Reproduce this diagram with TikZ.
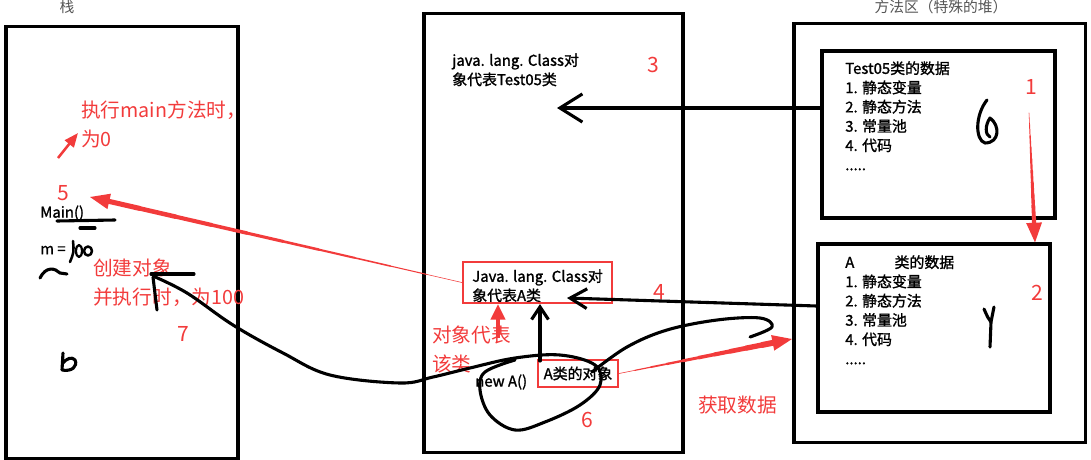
\documentclass[tikz,border=0pt]{standalone}
\usepackage{fontspec}
\setmainfont{Noto Sans CJK SC}
\newfontfamily\listfont{Noto Sans CJK SC}[FakeBold=1.3]
\usetikzlibrary{arrows.meta,calc}
\definecolor{redc}{HTML}{F23B3B}
\definecolor{titlegray}{HTML}{555555}

% red arrow that gets thicker towards its head
\newcommand\taperarrow[4]{%
  \foreach \i [evaluate=\i as \w using #3+(#4-#3)*\i/9] in {0,...,9}
    \draw[redc,line width=\w pt,line cap=round]
      ($(#1)!\i/10!($(#2)!10pt!(#1)$)$) -- ($(#1)!\i/10+0.1!($(#2)!10pt!(#1)$)$);
  \draw[redc,line width=1pt,-{Triangle[length=14pt,width=11pt]}] ($(#2)!16pt!(#1)$) -- (#2);}

\begin{document}
\begin{tikzpicture}[x=0.025cm,y=-0.025cm,
        every node/.style={inner sep=0pt},
        area/.style={draw,line width=2.2pt},
        redframe/.style={draw=redc,line width=1.5pt},
        title/.style={text=titlegray,font=\fontsize{10.5}{12}\selectfont},
        listtxt/.style={font=\listfont\fontsize{10.6}{13.7}\selectfont,align=left,anchor=north west},
        codetxt/.style={font=\listfont\fontsize{10.6}{13.7}\selectfont,anchor=west},
        note/.style={text=redc,font=\fontsize{14}{20}\selectfont,align=left,anchor=north west},
        num/.style={text=redc,font=\fontsize{15}{18}\selectfont},
        hand/.style={line width=2.2pt,line cap=round,line join=round},
        redarrow/.style={draw=redc,line width=1pt,-{Triangle[length=13pt,width=10pt]}}]
    \useasboundingbox (0,0) rectangle (1091,460);

    % the three areas
    \node[area,minimum width=5.8cm,minimum height=10.775cm] (stack) at (122,242.5) {};
    \node[area,minimum width=6.475cm,minimum height=10.95cm] (heap) at (553.5,233) {};
    \node[area,minimum width=7.275cm,minimum height=10.45cm] (method) at (939.5,233) {};
    \node[area,minimum width=5.825cm,minimum height=4.175cm] (cls1) at (938.5,134.5) {};
    \node[area,minimum width=5.8cm,minimum height=4.2cm] (cls2) at (934,328) {};
    \node[title] (stacktitle) at (67,7) {栈};
    \node[title] (methodtitle) at (941,7) {方法区（特殊的堆）};

    % class data
    \node[listtxt] (cls1txt) at (845,61) {Test05类的数据\\1. 静态变量\\2. 静态方法\\3. 常量池\\4. 代码\\.....};
    \node[listtxt] (cls2txt) at (845,255) {A\hspace{2.7em}类的数据\\1. 静态变量\\2. 静态方法\\3. 常量池\\4. 代码\\.....};

    % heap
    \node[listtxt] (clsobj1) at (452,53) {java. lang. Class对\\象代表Test05类};
    \node[listtxt] (clsobj2) at (472,269) {Java. lang. Class对\\象代表A类};
    \node[redframe,minimum width=3.725cm,minimum height=1.025cm] (redbox1) at (537.5,282.5) {};
    \node[codetxt] (newA) at (475,382) {new A()};
    \node[redframe,minimum width=2cm,minimum height=0.675cm,font=\listfont\fontsize{10.6}{13.7}\selectfont] (objA) at (578,373.5) {A类的对象};

    % stack
    \node[codetxt] (mainm) at (40,213) {Main()};
    \node[codetxt] (mvar) at (40,250) {m =};

    % red notes
    \node[note] (note1) at (81,101) {执行main方法时，\\为0};
    \node[note] (note2) at (93,259) {创建对象\\并执行时，为100};
    \node[note] (note3) at (432,326) {对象代表\\该类};
    \node[note] (note4) at (698,396) {获取数据};
    \node[num] (num1) at (1031,87) {1};
    \node[num] (num2) at (1037,293) {2};
    \node[num] (num3) at (653,65) {3};
    \node[num] (num4) at (659,292) {4};
    \node[num] (num5) at (63,193) {5};
    \node[num] (num6) at (587,420) {6};
    \node[num] (num7) at (183,334) {7};

    \coordinate (tip3) at (557,108);
    \coordinate (tip4) at (567,298);
    \coordinate (at5) at (90,197);
    \coordinate (getdata) at (792,339);
    \coordinate (from1) at (1029,113);
    \coordinate (up1) at (58,158);

    % black hand arrows
    \draw[hand,-{Straight Barb[length=16pt,width=20pt]}] (cls1.west |- tip3) -- (tip3);
    \draw[hand,-{Straight Barb[length=12pt,width=14pt]}] ([yshift=0.55cm]cls2.west) -- (tip4);
    \draw[hand,-{Straight Barb[length=9pt,width=12pt]}] (540,361) -- (redbox1.south -| 540,0);

    % red arrows
    \taperarrow{redbox1.west}{at5}{0.4}{3.6}
    \taperarrow{objA.east}{getdata}{0.4}{4.2}
    \taperarrow{from1}{cls2.north -| 1035,0}{0.4}{3}
    \draw[redarrow,line width=1.8pt,-{Triangle[length=10pt,width=8pt]}] (up1) -- (78,133);
    \draw[redarrow,line width=2.4pt,-{Triangle[length=11pt,width=10pt]}] (498,338) -- (redbox1.south -| 498,0);

    % scribbles
    \draw[hand] plot[smooth,tension=0.6] coordinates {(153,276) (187,293) (233,325) (283,353) (330,375) (400,383) (433,377) (470,368) (515,358) (560,355) (595,365) (600,385) (580,405) (545,422) (515,430) (490,415) (480,390) (485,372) (515,360)};
    \draw[hand] plot[smooth,tension=0.6] coordinates {(592,372) (627,347) (667,330) (717,320) (760,318) (772,327) (750,337)};
    \draw[hand] (151,274) -- (194,274);
    \draw[hand] (153,277) -- (157,310);
    \draw[hand] (57,221) -- (115,220);
    \draw[hand] (80,228) -- (95,228);
    \draw[hand,line width=1.8pt] (73,241) .. controls (74,252) .. (70,262);
    \draw[hand,line width=1.6pt] (79,251) ellipse (3 and 6);
    \draw[hand,line width=1.8pt] (88,251) ellipse (4 and 4.5);
    \draw[hand] (40,278) .. controls (46,266) and (55,268) .. (60,273) -- (67,274);
    \draw[hand] (63,353) -- (62,370) .. controls (72,372) and (78,366) .. (75,360) .. controls (72,356) and (66,359) .. (63,363);
    \draw[hand] (987,100) .. controls (975,115) and (975,140) .. (985,143) .. controls (1000,143) and (1000,125) .. (990,118) .. controls (985,125) and (985,135) .. (990,137);
    \draw[hand] (984,309) .. controls (988,318) .. (991,322);
    \draw[hand] (994,307) -- (991,322) -- (990,347);
\end{tikzpicture}
\end{document}
